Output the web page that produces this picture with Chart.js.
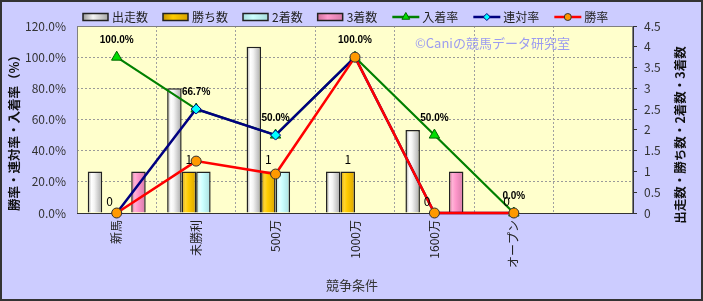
<!DOCTYPE html>
<html>
<head>
<meta charset="utf-8">
<script src="https://cdn.jsdelivr.net/npm/chart.js@4.4.1/dist/chart.umd.min.js"></script>
<style>
    html, body { margin: 0; padding: 0; background: #CCCCFF; }
    #wrap { width: 703px; height: 301px; }
</style>
</head>
<body>
<div id="wrap"><canvas id="chart" width="703" height="301"></canvas></div>
<script>
// Data
const categories = ['新馬', '未勝利', '500万', '1000万', '1600万', 'オープン', ''];
const runs = [1, 3, 4, 1, 2, 0];        // 出走数
const wins = [0, 1, 1, 1, 0, 0];        // 勝ち数
const seconds = [0, 1, 1, 0, 0, 0];     // 2着数
const thirds = [1, 0, 0, 0, 1, 0];      // 3着数
const placeRate = [100, 66.7, 50.0, 100, 50.0, 0];   // 入着率 (%)
const rentaiRate = [0, 66.7, 50.0, 100, 0, 0];        // 連対率 (%)
const winRate = [0, 33.3, 25.0, 100, 0, 0];           // 勝率 (%)

const FONT = '"Noto Sans CJK JP", "Noto Sans", sans-serif';
Chart.defaults.font.family = FONT;
Chart.defaults.font.size = 12;
Chart.defaults.color = '#222';

const CAT_PCT = 0.73;

// Cylinder-like horizontal gradient for each bar
function barFill(stops, datasetIdx) {
    return function(c) {
        const chart = c.chart;
        const x = chart.scales.x;
        if (!x || !x.width || c.dataIndex == null) return stops[2];
        const step = x.width / categories.length;
        const group = step * CAT_PCT;
        const bw = group / 4;
        const left = x.getPixelForValue(c.dataIndex) - group / 2 + datasetIdx * bw;
        const g = chart.ctx.createLinearGradient(left, 0, left + bw, 0);
        g.addColorStop(0, stops[0]);
        g.addColorStop(0.25, stops[1]);
        g.addColorStop(0.45, stops[2]);
        g.addColorStop(1, stops[3]);
        return g;
    };
}

function zeroNoBorder(c) {
    return c.raw === 0 ? 0 : 1.5;
}

// Backgrounds, frame, watermark
const backdrop = {
    id: 'backdrop',
    beforeDraw(chart) {
        const ctx = chart.ctx;
        const a = chart.chartArea;
        ctx.save();
        ctx.fillStyle = '#CCCCFF';
        ctx.fillRect(0, 0, chart.width, chart.height);
        ctx.fillStyle = '#FFFFCC';
        ctx.fillRect(a.left, a.top, a.right - a.left, a.bottom - a.top);
        ctx.restore();
    },
    beforeDatasetsDraw(chart) {
        const ctx = chart.ctx;
        const a = chart.chartArea;
        ctx.save();
        ctx.strokeStyle = '#808080';
        ctx.lineWidth = 1;
        ctx.strokeRect(a.left + 0.5, a.top + 0.5, a.right - a.left - 1, a.bottom - a.top);
        ctx.strokeStyle = '#333';
        ctx.beginPath();
        ctx.moveTo(a.left, a.bottom + 0.5);
        ctx.lineTo(a.right, a.bottom + 0.5);
        ctx.stroke();
        ctx.fillStyle = '#9C9CF0';
        ctx.font = '13px ' + FONT;
        ctx.textBaseline = 'middle';
        ctx.textAlign = 'left';
        ctx.fillText('©Caniの競馬データ研究室', 415, 43);
        ctx.restore();
    },
    afterDraw(chart) {
        const ctx = chart.ctx;
        ctx.save();
        ctx.strokeStyle = '#333';
        ctx.lineWidth = 2;
        ctx.strokeRect(1, 1, chart.width - 2, chart.height - 2);
        ctx.restore();
    }
};

// Value labels on 勝ち数 bars and 入着率 points
const valueLabels = {
    id: 'valueLabels',
    afterDatasetsDraw(chart) {
        const ctx = chart.ctx;
        ctx.save();
        ctx.fillStyle = '#000';
        ctx.textAlign = 'center';
        ctx.textBaseline = 'middle';

        ctx.font = '12px ' + FONT;
        chart.getDatasetMeta(1).data.forEach((el, i) => {
            ctx.fillText(String(wins[i]), el.x, el.y - 12);
        });

        ctx.font = 'bold 10px "Liberation Sans", Arial, sans-serif';
        chart.getDatasetMeta(4).data.forEach((el, i) => {
            ctx.fillText(placeRate[i].toFixed(1) + '%', el.x, el.y - 17);
        });
        ctx.restore();
    }
};

// Legend and axis titles
const legendTitles = {
    id: 'legendTitles',
    afterDraw(chart) {
        const ctx = chart.ctx;
        ctx.save();
        ctx.font = '12px ' + FONT;
        ctx.textBaseline = 'middle';
        ctx.textAlign = 'left';
        let x = 83;
        const y = 17;
        chart.data.datasets.forEach((ds) => {
            if (ds.type === 'line') {
                ctx.strokeStyle = ds.borderColor;
                ctx.lineWidth = 2.5;
                ctx.beginPath();
                ctx.moveTo(x, y);
                ctx.lineTo(x + 27, y);
                ctx.stroke();
                ctx.fillStyle = ds.pointBackgroundColor;
                ctx.strokeStyle = ds.pointBorderColor;
                ctx.lineWidth = 1;
                Chart.helpers.drawPoint(ctx, {
                    pointStyle: ds.pointStyle,
                    radius: ds.pointRadius - 1.5,
                    borderWidth: 1
                }, x + 13.5, y);
                x += 30;
            } else {
                const g = ctx.createLinearGradient(x, 0, x + 25, 0);
                g.addColorStop(0, ds.legendStops[0]);
                g.addColorStop(0.4, ds.legendStops[2]);
                g.addColorStop(1, ds.legendStops[3]);
                ctx.fillStyle = g;
                ctx.fillRect(x, y - 3.5, 25, 7);
                ctx.strokeStyle = '#222';
                ctx.lineWidth = 1.5;
                ctx.strokeRect(x, y - 3.5, 25, 7);
                x += 29;
            }
            ctx.fillStyle = '#222';
            ctx.fillText(ds.label, x, y);
            x += ctx.measureText(ds.label).width + 15;
        });

        // axis titles
        ctx.fillStyle = '#111';
        ctx.textAlign = 'center';
        ctx.font = 'bold 12.5px ' + FONT;
        ctx.save();
        ctx.translate(14, 130);
        ctx.rotate(-Math.PI / 2);
        ctx.fillText('勝率・連対率・入着率（%）', 0, 0);
        ctx.restore();
        ctx.save();
        ctx.translate(680, 135);
        ctx.rotate(-Math.PI / 2);
        ctx.fillText('出走数・勝ち数・2着数・3着数', 0, 0);
        ctx.restore();
        ctx.font = '13px ' + FONT;
        ctx.fillStyle = '#333';
        ctx.fillText('競争条件', 352, 285);
        ctx.restore();
    }
};

const whiteStops = ['#9a9a9a', '#ffffff', '#f4f4f4', '#a8a8a8'];
const goldStops = ['#c89600', '#ffd633', '#ffcc00', '#d9a300'];
const cyanStops = ['#a8e0e0', '#e6ffff', '#ccffff', '#a8dede'];
const pinkStops = ['#d0709c', '#ffb3d6', '#ff99cc', '#d77aa8'];

function barSet(label, data, stops, idx) {
    return {
        type: 'bar',
        label: label,
        data: data,
        yAxisID: 'y1',
        order: 10,
        backgroundColor: barFill(stops, idx),
        legendStops: stops,
        borderColor: '#222',
        borderWidth: zeroNoBorder,
        borderSkipped: 'bottom',
        categoryPercentage: CAT_PCT,
        barPercentage: 1.0
    };
}

function lineSet(label, data, color, style, fill, edge, radius, order, width) {
    return {
        type: 'line',
        label: label,
        data: data,
        yAxisID: 'y',
        order: order,
        borderColor: color,
        borderWidth: width,
        pointStyle: style,
        pointRadius: radius,
        pointBackgroundColor: fill,
        pointBorderColor: edge,
        pointBorderWidth: 1,
        tension: 0,
        clip: false
    };
}

new Chart(document.getElementById('chart'), {
    type: 'bar',
    data: {
        labels: categories,
        datasets: [
            barSet('出走数', runs, whiteStops, 0),
            barSet('勝ち数', wins, goldStops, 1),
            barSet('2着数', seconds, cyanStops, 2),
            barSet('3着数', thirds, pinkStops, 3),
            lineSet('入着率', placeRate, '#008000', 'triangle', '#00DD00', '#006600', 6, 3, 2.2),
            lineSet('連対率', rentaiRate, '#000080', 'rectRot', '#00FFFF', '#000080', 5, 2, 2.5),
            lineSet('勝率', winRate, '#FF0000', 'circle', '#FF9900', '#333333', 5, 1, 2.5)
        ]
    },
    options: {
        responsive: false,
        animation: false,
        events: [],
        layout: { padding: { top: 26, left: 0, right: 0, bottom: 0 } },
        plugins: {
            legend: { display: false },
            tooltip: { enabled: false }
        },
        scales: {
            x: {
                type: 'category',
                offset: true,
                grid: {
                    offset: true,
                    color: '#a0a0a0',
                    drawTicks: false
                },
                border: { display: false, dash: [2, 2] },
                ticks: {
                    minRotation: 90,
                    maxRotation: 90,
                    padding: 7,
                    autoSkip: false,
                    color: '#222',
                    font: { size: 12 }
                },
                afterFit(scale) { scale.height = 88; }
            },
            y: {
                position: 'left',
                min: 0,
                max: 120,
                grid: { color: '#9a9a9a', drawTicks: false },
                border: { display: false, dash: [2, 2] },
                ticks: {
                    stepSize: 20,
                    padding: 11,
                    color: '#333',
                    font: { size: 12 },
                    callback: v => v.toFixed(1) + '%'
                },
                afterFit(scale) { scale.width = 77; }
            },
            y1: {
                position: 'right',
                min: 0,
                max: 4.5,
                grid: {
                    drawOnChartArea: false,
                    drawTicks: true,
                    tickLength: 4,
                    color: '#333'
                },
                border: { display: true, color: '#333' },
                ticks: {
                    stepSize: 0.5,
                    padding: 7,
                    color: '#333',
                    font: { size: 12 },
                    callback: v => String(Number(v.toFixed(1)))
                },
                afterFit(scale) { scale.width = 70; }
            }
        }
    },
    plugins: [backdrop, valueLabels, legendTitles]
});
</script>
</body>
</html>
